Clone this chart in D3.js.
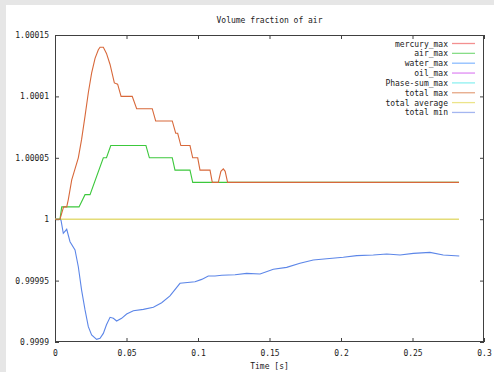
<!DOCTYPE html>
<html>
<head>
<meta charset="utf-8">
<script src="https://cdn.jsdelivr.net/npm/d3@7"></script>
<style>
  body { margin: 0; background: #e6e6e6; }
  svg { display: block; }
  text { font-family: "DejaVu Sans Mono", monospace; font-size: 8px; fill: #1a1a1a; }
</style>
</head>
<body>
<div id="chart"></div>
<script>
// ---- data ----
const seriesNames = ["mercury_max", "air_max", "water_max", "oil_max", "Phase-sum_max",
                     "total max", "total average", "total min"];

const xTicks = [0, 0.05, 0.1, 0.15, 0.2, 0.25, 0.3];
const xTickLabels = ["0", "0.05", "0.1", "0.15", "0.2", "0.25", "0.3"];
const yTicks = [0.9999, 0.99995, 1, 1.00005, 1.0001, 1.00015];
const yTickLabels = ["0.9999", "0.99995", "1", "1.00005", "1.0001", "1.00015"];

const totalMaxT = [0, 0.0035, 0.006, 0.0082, 0.0093, 0.0117, 0.014, 0.0163, 0.0186, 0.021,
  0.0233, 0.0256, 0.028, 0.0303, 0.0315, 0.0338, 0.036, 0.0385, 0.0415, 0.0438, 0.0462,
  0.054, 0.0571, 0.068, 0.0704, 0.082, 0.0844, 0.0858, 0.088, 0.0944, 0.0963, 0.0998,
  0.1014, 0.1084, 0.11, 0.1142, 0.116, 0.1177, 0.119, 0.1207, 0.2825];
const totalMaxV = [1, 1, 1.00001, 1.00001, 1.000016, 1.000032, 1.000041, 1.00005, 1.000065,
  1.000084, 1.000103, 1.000119, 1.000131, 1.000138, 1.00014, 1.00014, 1.000135, 1.000126,
  1.000111, 1.00011, 1.0001, 1.0001, 1.00009, 1.00009, 1.00008, 1.00008, 1.00007, 1.00007,
  1.00006, 1.00006, 1.00005, 1.00005, 1.00004, 1.00004, 1.00003, 1.00003, 1.000039,
  1.000041, 1.000039, 1.00003, 1.00003];

const airMaxT = [0, 0.0035, 0.0047, 0.0168, 0.021, 0.0245, 0.0338, 0.036, 0.039, 0.0636,
  0.066, 0.082, 0.0839, 0.0944, 0.0963, 0.2825];
const airMaxV = [1, 1, 1.00001, 1.00001, 1.00002, 1.00002, 1.00005, 1.00005, 1.00006,
  1.00006, 1.00005, 1.00005, 1.00004, 1.00004, 1.00003, 1.00003];

const totalAvgT = [0, 0.2825];
const totalAvgV = [1, 1];

const totalMinT = [0, 0.0028, 0.0042, 0.0058, 0.0082, 0.0105, 0.014, 0.0163, 0.0186, 0.021,
  0.0233, 0.0256, 0.0291, 0.0315, 0.0338, 0.036, 0.0385, 0.0408, 0.0431, 0.0466, 0.0501,
  0.0548, 0.0618, 0.0688, 0.0746, 0.0804, 0.0874, 0.0979, 0.1026, 0.1072, 0.1119, 0.1166,
  0.1259, 0.134, 0.1434, 0.1527, 0.162, 0.1713, 0.1806, 0.19, 0.2016, 0.211, 0.2226,
  0.232, 0.2413, 0.2506, 0.2622, 0.2715, 0.2827];
const totalMinV = [1, 1, 0.9999993, 0.9999885, 0.9999918, 0.9999817, 0.999975, 0.9999613,
  0.9999423, 0.9999261, 0.9999125, 0.9999057, 0.9999022, 0.999903, 0.999907, 0.999914,
  0.9999201, 0.9999193, 0.9999171, 0.9999193, 0.9999228, 0.9999255, 0.9999266, 0.9999283,
  0.999932, 0.9999375, 0.9999478, 0.9999491, 0.999951, 0.9999537, 0.9999537, 0.9999543,
  0.9999548, 0.9999559, 0.9999554, 0.9999592, 0.9999608, 0.9999641, 0.9999668, 0.9999678,
  0.999969, 0.9999703, 0.9999708, 0.9999717, 0.9999708, 0.9999722, 0.999973, 0.9999708,
  0.99997];

// legend colours (lighter) and plotted line colours
const legendColors = ["#f39090", "#88dd88", "#8cbcff", "#e08cf4", "#8ef0f0", "#e6a886", "#ece48a", "#a4b6f0"];
const lineColors = {air: "#3cc83c", max: "#d8683a", avg: "#e4dc78", min: "#5c86e8"};

// ---- layout ----
const W = 494, H = 372;
const margin = {top: 35, right: 10, bottom: 30, left: 55};

const svg = d3.select("#chart").append("svg")
    .attr("width", W)
    .attr("height", H);

// white panel over grey background
svg.append("rect")
    .attr("x", 6).attr("y", 5)
    .attr("width", W - 6).attr("height", H - 5)
    .attr("fill", "#fff");

const x = d3.scaleLinear().domain([0, 0.3]).range([margin.left, 484]);
const y = d3.scaleLinear().domain([0.9999, 1.00015]).range([342, margin.top]);

const g = svg.append("g");

// ticks (inward, mirrored on all sides)
const tickLen = 4;
g.append("g")
    .attr("transform", `translate(0,${y.range()[0]})`)
    .call(d3.axisBottom(x).tickValues(xTicks).tickSizeInner(-tickLen).tickSizeOuter(0)
      .tickPadding(8).tickFormat((d, i) => xTickLabels[i]))
    .call(a => a.select(".domain").remove());
g.append("g")
    .attr("transform", `translate(0,${y.range()[1]})`)
    .call(d3.axisTop(x).tickValues(xTicks).tickSizeInner(-tickLen).tickSizeOuter(0).tickFormat(""))
    .call(a => a.select(".domain").remove());
g.append("g")
    .attr("transform", `translate(${x.range()[0]},0)`)
    .call(d3.axisLeft(y).tickValues(yTicks).tickSizeInner(-tickLen).tickSizeOuter(0)
      .tickPadding(6).tickFormat((d, i) => yTickLabels[i]))
    .call(a => a.select(".domain").remove());
g.append("g")
    .attr("transform", `translate(${x.range()[1]},0)`)
    .call(d3.axisRight(y).tickValues(yTicks).tickSizeInner(-tickLen).tickSizeOuter(0).tickFormat(""))
    .call(a => a.select(".domain").remove());

g.selectAll(".tick line").attr("stroke", "#404040");
g.selectAll(".tick text")
    .style("font-family", '"DejaVu Sans Mono", monospace')
    .style("font-size", "8px")
    .attr("fill", "#1a1a1a");

// frame
svg.append("rect")
    .attr("x", x.range()[0] + 0.5).attr("y", y.range()[1] + 0.5)
    .attr("width", x.range()[1] - x.range()[0] - 1)
    .attr("height", y.range()[0] - y.range()[1] - 1)
    .attr("fill", "none")
    .attr("stroke", "#404040");

// lines
const line = d3.line().x(d => x(d[0])).y(d => y(d[1]));
const zip = (a, b) => a.map((t, i) => [t, b[i]]);

const plotted = [
  {pts: zip(totalAvgT, totalAvgV), color: lineColors.avg, w: 1.6},
  {pts: zip(totalMinT, totalMinV), color: lineColors.min, w: 1.1},
  {pts: zip(airMaxT, airMaxV), color: lineColors.air, w: 1.1},
  {pts: zip(totalMaxT, totalMaxV), color: lineColors.max, w: 1.1}
];

svg.selectAll(".series")
    .data(plotted)
    .join("path")
    .attr("class", "series")
    .attr("d", d => line(d.pts))
    .attr("fill", "none")
    .attr("stroke", d => d.color)
    .attr("stroke-width", d => d.w);

// legend
const legend = svg.append("g");
const rowY = i => 43.5 + i * 9.85;
legend.selectAll("text")
    .data(seriesNames)
    .join("text")
    .attr("x", 448)
    .attr("y", (d, i) => rowY(i) + 3)
    .attr("text-anchor", "end")
    .text(d => d);
legend.selectAll("line")
    .data(seriesNames)
    .join("line")
    .attr("x1", 452).attr("x2", 475)
    .attr("y1", (d, i) => rowY(i)).attr("y2", (d, i) => rowY(i))
    .attr("stroke", (d, i) => legendColors[i])
    .attr("stroke-width", 1.3);

// title and axis label
svg.append("text")
    .attr("x", (x.range()[0] + x.range()[1]) / 2)
    .attr("y", 23)
    .attr("text-anchor", "middle")
    .text("Volume fraction of air");

svg.append("text")
    .attr("x", (x.range()[0] + x.range()[1]) / 2)
    .attr("y", 369)
    .attr("text-anchor", "middle")
    .text("Time [s]");
</script>
</body>
</html>
